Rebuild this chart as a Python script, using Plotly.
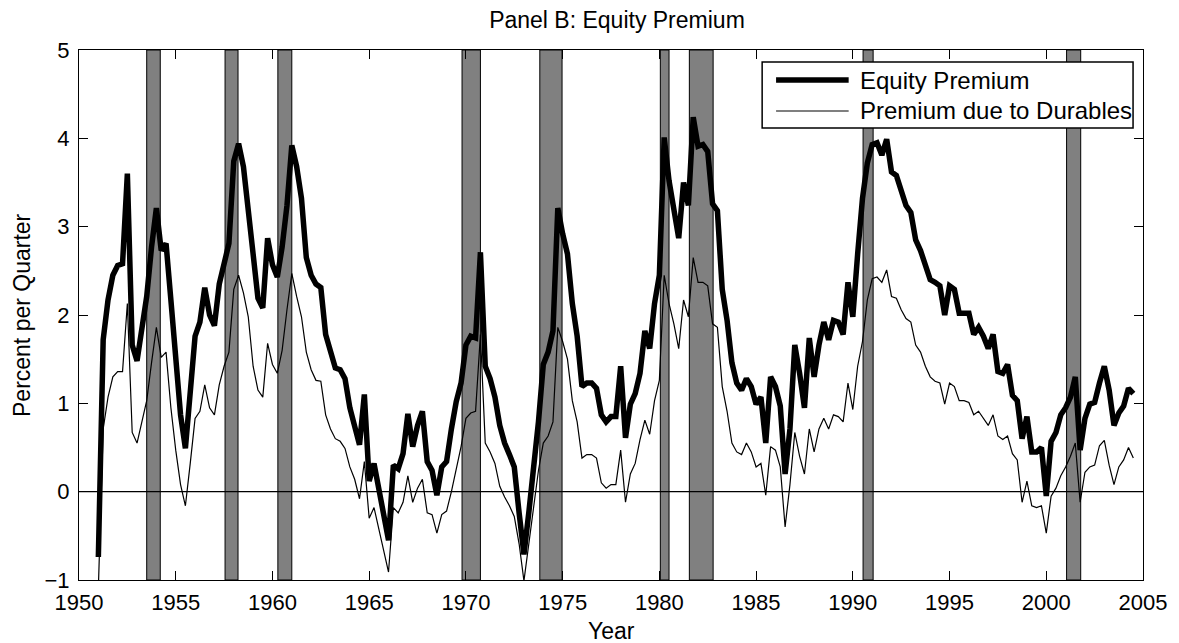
import plotly.graph_objects as go

# ---- data (quarterly, starting 1951Q1) ----
start_year = 1951.0
equity_premium = [
    -0.74, 1.72, 2.17, 2.45, 2.56, 2.58, 3.60, 1.66, 1.48, 1.86,
    2.21, 2.77, 3.21, 2.73, 2.81, 2.17, 1.50, 0.87, 0.49, 1.05,
    1.76, 1.92, 2.31, 2.00, 1.88, 2.35, 2.57, 2.81, 3.74, 3.94,
    3.68, 3.24, 2.69, 2.19, 2.08, 2.87, 2.57, 2.43, 2.77, 3.24,
    3.92, 3.68, 3.32, 2.65, 2.45, 2.35, 2.31, 1.78, 1.58, 1.40,
    1.38, 1.28, 0.95, 0.75, 0.53, 1.10, 0.12, 0.32, 0.04, -0.22,
    -0.55, 0.30, 0.26, 0.43, 0.88, 0.51, 0.75, 0.91, 0.34, 0.24,
    -0.04, 0.28, 0.34, 0.71, 1.02, 1.23, 1.66, 1.76, 1.74, 2.71,
    1.42, 1.28, 1.07, 0.75, 0.55, 0.42, 0.28, -0.24, -0.71, -0.24,
    0.26, 0.79, 1.44, 1.58, 1.82, 3.21, 2.92, 2.69, 2.13, 1.76,
    1.19, 1.23, 1.23, 1.17, 0.87, 0.79, 0.85, 0.85, 1.42, 0.61,
    0.99, 1.11, 1.34, 1.82, 1.62, 2.13, 2.45, 4.01, 3.52, 3.20,
    2.87, 3.50, 3.24, 4.24, 3.91, 3.93, 3.85, 3.26, 3.18, 2.29,
    1.94, 1.46, 1.23, 1.15, 1.28, 1.19, 0.99, 1.07, 0.55, 1.30,
    1.19, 0.97, 0.20, 0.71, 1.66, 1.34, 0.95, 1.74, 1.30, 1.66,
    1.92, 1.72, 1.94, 1.92, 1.78, 2.37, 1.98, 2.69, 3.32, 3.72,
    3.93, 3.95, 3.81, 3.99, 3.62, 3.58, 3.40, 3.24, 3.16, 2.85,
    2.73, 2.57, 2.40, 2.37, 2.33, 2.00, 2.33, 2.29, 2.02, 2.02,
    2.02, 1.78, 1.86, 1.76, 1.62, 1.78, 1.36, 1.34, 1.44, 1.09,
    1.03, 0.60, 0.85, 0.45, 0.45, 0.50, -0.05, 0.57, 0.67, 0.87,
    0.95, 1.07, 1.30, 0.47, 0.83, 0.99, 1.01, 1.23, 1.42, 1.15,
    0.75, 0.89, 0.97, 1.17, 1.11,
]
durables_premium = [
    -1.10, 0.71, 1.07, 1.30, 1.36, 1.36, 2.13, 0.67, 0.55, 0.79,
    1.03, 1.46, 1.86, 1.52, 1.58, 0.95, 0.47, 0.08, -0.16, 0.32,
    0.83, 0.91, 1.21, 0.95, 0.87, 1.21, 1.42, 1.58, 2.29, 2.45,
    2.25, 1.98, 1.42, 1.15, 1.07, 1.68, 1.44, 1.34, 1.60, 2.06,
    2.47, 2.21, 1.98, 1.58, 1.38, 1.26, 1.25, 0.87, 0.71, 0.60,
    0.57, 0.49, 0.28, 0.14, -0.08, 0.34, -0.30, -0.18, -0.43, -0.67,
    -0.91, -0.18, -0.24, -0.12, 0.18, -0.12, 0.04, 0.14, -0.24, -0.26,
    -0.47, -0.26, -0.22, 0.00, 0.26, 0.51, 0.83, 0.89, 0.91, 1.78,
    0.55, 0.45, 0.32, 0.06, -0.06, -0.16, -0.28, -0.59, -1.01, -0.59,
    -0.12, 0.24, 0.55, 0.63, 0.79, 1.86, 1.70, 1.50, 1.03, 0.79,
    0.38, 0.42, 0.42, 0.38, 0.10, 0.04, 0.08, 0.08, 0.47, -0.12,
    0.20, 0.32, 0.59, 0.81, 0.65, 1.03, 1.26, 2.45, 2.13, 1.90,
    1.62, 2.17, 1.98, 2.65, 2.37, 2.37, 2.33, 1.90, 1.86, 1.19,
    0.91, 0.55, 0.45, 0.42, 0.55, 0.45, 0.28, 0.32, -0.04, 0.51,
    0.47, 0.28, -0.40, 0.08, 0.67, 0.40, 0.20, 0.71, 0.45, 0.71,
    0.83, 0.71, 0.87, 0.85, 0.79, 1.23, 0.93, 1.42, 1.70, 2.17,
    2.41, 2.43, 2.37, 2.51, 2.21, 2.19, 2.06, 1.96, 1.92, 1.66,
    1.58, 1.42, 1.30, 1.25, 1.23, 0.99, 1.23, 1.19, 1.03, 1.03,
    1.01, 0.87, 0.91, 0.83, 0.75, 0.87, 0.63, 0.59, 0.63, 0.43,
    0.36, -0.12, 0.12, -0.16, -0.18, -0.16, -0.47, -0.05, 0.04, 0.18,
    0.28, 0.40, 0.55, -0.12, 0.22, 0.28, 0.30, 0.52, 0.58, 0.30,
    0.08, 0.28, 0.36, 0.50, 0.38,
]
series_names = ["Equity Premium", "Premium due to Durables"]
recession_start = [1953.50, 1957.55, 1960.28, 1969.80, 1973.82, 1980.05, 1981.55, 1990.53, 2001.05]
recession_end   = [1954.20, 1958.22, 1961.00, 1970.75, 1974.97, 1980.50, 1982.78, 1991.05, 2001.78]
x_ticks = [1950, 1955, 1960, 1965, 1970, 1975, 1980, 1985, 1990, 1995, 2000, 2005]
y_ticks = [-1, 0, 1, 2, 3, 4, 5]

years = [start_year + q / 4 for q in range(len(equity_premium))]

FONT = "Liberation Sans, Arial, Helvetica, sans-serif"
THICK, THIN = 5.5, 1.2

# page layout (pixels in the browser page; the page body adds an 8 px offset)
OFF = 8
PL, PR, PT, PB = 79, 1149, 50, 580          # plot-area edges on the page
FIG_W, FIG_H = 1179 - OFF, 643 - OFF


def xp(x):
    return (x - PL) / (PR - PL)


def yp(y):
    return 1 - (y - PT) / (PB - PT)


fig = go.Figure()
fig.add_trace(go.Scatter(x=years, y=equity_premium, mode="lines", name=series_names[0],
                         line=dict(color="black", width=THICK), showlegend=False))
fig.add_trace(go.Scatter(x=years, y=durables_premium, mode="lines", name=series_names[1],
                         line=dict(color="black", width=THIN), showlegend=False))

shapes = [dict(type="line", xref="x", yref="y", x0=x_ticks[0], x1=x_ticks[-1], y0=0, y1=0,
               line=dict(color="black", width=1.2), layer="below")]
for s, e in zip(recession_start, recession_end):
    shapes.append(dict(type="rect", xref="x", yref="paper", x0=s, x1=e, y0=0, y1=1,
                       fillcolor="#808080", line=dict(color="black", width=1), layer="below"))

# legend box (drawn by hand so that the sample lines have MATLAB-like length)
LB_L, LB_R, LB_T, LB_B = 766, 1139, 62, 128
rows_y = [80, 111]
shapes.append(dict(type="rect", xref="paper", yref="paper", x0=xp(LB_L), x1=xp(LB_R),
                   y0=yp(LB_B), y1=yp(LB_T), fillcolor="white",
                   line=dict(color="black", width=1.5), layer="above"))
annotations = []
for name, w, ry in zip(series_names, [THICK, THIN], rows_y):
    shapes.append(dict(type="line", xref="paper", yref="paper", x0=xp(780), x1=xp(853),
                       y0=yp(ry), y1=yp(ry), line=dict(color="black", width=w), layer="above"))
    annotations.append(dict(text=name, xref="paper", yref="paper", x=xp(862), y=yp(ry),
                            xanchor="left", yanchor="middle", showarrow=False,
                            font=dict(family=FONT, size=24, color="black")))

annotations += [
    dict(text="Year", xref="paper", yref="paper", x=0.5, y=0, yanchor="middle", yshift=-(631 - PB),
         showarrow=False, font=dict(family=FONT, size=23, color="black")),
    dict(text="Percent per Quarter", xref="paper", yref="paper", x=0, y=0.5, xanchor="center",
         xshift=-(PL - 22), textangle=-90, showarrow=False,
         font=dict(family=FONT, size=23, color="black")),
]

axis_common = dict(showline=True, linecolor="black", linewidth=1, mirror="allticks",
                   ticks="inside", ticklen=9, tickcolor="black", showgrid=False, zeroline=False,
                   tickfont=dict(family=FONT, size=22, color="black"))

fig.update_layout(
    width=FIG_W, height=FIG_H,
    margin=dict(l=PL - OFF, r=FIG_W - (PR - OFF), t=PT - OFF, b=FIG_H - (PB - OFF)),
    paper_bgcolor="white", plot_bgcolor="white",
    shapes=shapes,
    annotations=annotations,
    showlegend=False,
    xaxis=dict(range=[x_ticks[0], x_ticks[-1]], tickvals=x_ticks, ticklabelstandoff=3, **axis_common),
    yaxis=dict(range=[y_ticks[0], y_ticks[-1]], tickvals=y_ticks, ticklabelstandoff=4, **axis_common),
    title=dict(text="Panel B: Equity Premium", x=xp(620), xref="paper", xanchor="center",
               y=1 - (20 - OFF) / FIG_H, yanchor="middle",
               font=dict(family=FONT, size=23, color="black")),
)

fig.write_html("out.html")
